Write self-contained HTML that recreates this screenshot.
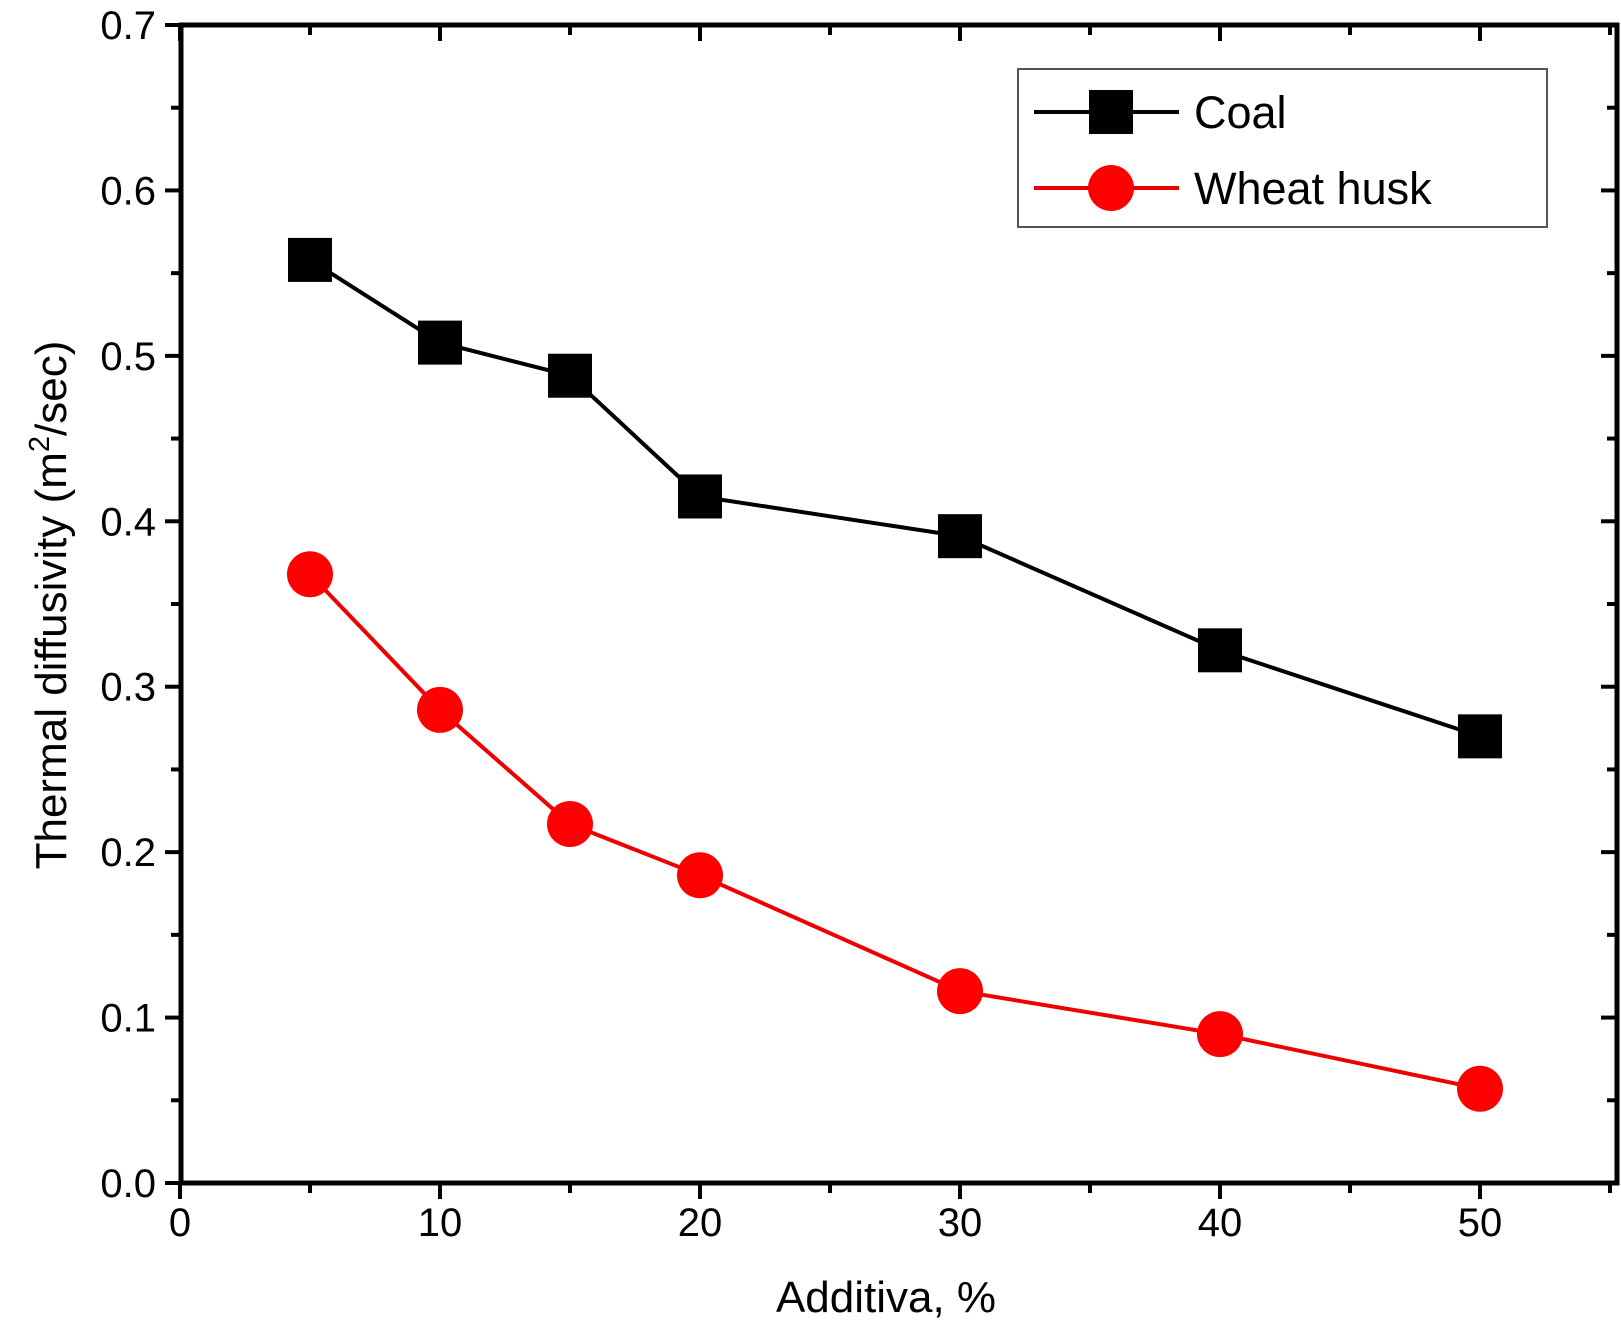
<!DOCTYPE html>
<html><head><meta charset="utf-8"><style>
html,body{margin:0;padding:0;background:#fff;}
svg{display:block;font-family:"Liberation Sans",sans-serif;}
</style></head><body>
<svg id="chart" width="1621" height="1323" viewBox="0 0 1621 1323" xmlns="http://www.w3.org/2000/svg">
<g id="axes"></g>
<g id="series"></g>
<g>
<rect x="1018" y="69" width="529" height="158" fill="#fff" stroke="#555" stroke-width="2"/>
<g>
<line x1="1034" y1="112" x2="1179" y2="112" stroke="#000" stroke-width="4"/>
<rect x="1089" y="90" width="44" height="44" fill="#000"/>
<text x="1194" y="128" font-size="45">Coal</text></g>
<g>
<line x1="1034" y1="188" x2="1179" y2="188" stroke="#e00" stroke-width="4"/>
<circle cx="1111" cy="188" r="23" fill="#f00"/>
<text x="1194" y="204" font-size="45">Wheat husk</text></g>
</g>
<text x="886" y="1312" font-size="44" text-anchor="middle">Additiva, %</text>
<text transform="translate(66,605) rotate(-90)" font-size="44" text-anchor="middle">Thermal diffusivity (m<tspan font-size="29" dy="-17">2</tspan><tspan dy="17">/sec)</tspan></text>
</svg>
<script>
const categories=[5,10,15,20,30,40,50];
const coalValues=[0.558,0.508,0.488,0.415,0.391,0.322,0.270];
const wheatValues=[0.368,0.286,0.217,0.186,0.116,0.090,0.057];
const xTickLabels=["0","10","20","30","40","50"];
const yTickLabels=["0.0","0.1","0.2","0.3","0.4","0.5","0.6","0.7"];
const L=181,R=1617,T=25,B=1183;
const X=v=>180+v*26;
const Y=v=>B-v*(B-T)/0.7;
const NS="http://www.w3.org/2000/svg";
function mk(tag,attrs,parent){const e=document.createElementNS(NS,tag);for(const k in attrs)e.setAttribute(k,attrs[k]);parent.appendChild(e);return e;}
const ax=document.getElementById('axes');
const frame=mk('rect',{x:L,y:T,width:R-L,height:B-T,fill:'none',stroke:'#000','stroke-width':5},ax);


for(let v=0;v<=55;v+=5){
  const major=v%10===0,len=major?16:10,x=X(v);
  const t=mk('line',{x1:x,y1:B,x2:x,y2:B+len,stroke:'#000','stroke-width':4},ax);
  
  
  const t2=mk('line',{x1:x,y1:T,x2:x,y2:T+len,stroke:'#000','stroke-width':4},ax);
  
  
}
xTickLabels.forEach(s=>{
  const tx=mk('text',{x:X(+s),y:1236,'font-size':40,'text-anchor':'middle'},ax);tx.textContent=s;
  
  
});
for(let i=0;i<=14;i++){
  const v=i*0.05,major=i%2===0,len=major?16:10,y=Y(v);
  const t=mk('line',{x1:L-len,y1:y,x2:L,y2:y,stroke:'#000','stroke-width':4},ax);
  
  
  const t2=mk('line',{x1:R-len,y1:y,x2:R,y2:y,stroke:'#000','stroke-width':4},ax);
  
  
}
yTickLabels.forEach(s=>{
  const ty=mk('text',{x:156,y:Y(+s)+14,'font-size':40,'text-anchor':'end'},ax);ty.textContent=s;
  
  
});
const sg=document.getElementById('series');
function pts(vals){return categories.map((c,i)=>X(c)+','+Y(vals[i])).join(' ');}
const l1=mk('polyline',{points:pts(coalValues),fill:'none',stroke:'#000','stroke-width':4},sg);


const l2=mk('polyline',{points:pts(wheatValues),fill:'none',stroke:'#e00','stroke-width':4},sg);


categories.forEach((c,i)=>{
  const r=mk('rect',{x:X(c)-22,y:Y(coalValues[i])-22,width:44,height:44,fill:'#000'},sg);
  
  
  const ci=mk('circle',{cx:X(c),cy:Y(wheatValues[i]),r:23,fill:'#f00'},sg);
  
  
});
</script>
</body></html>
